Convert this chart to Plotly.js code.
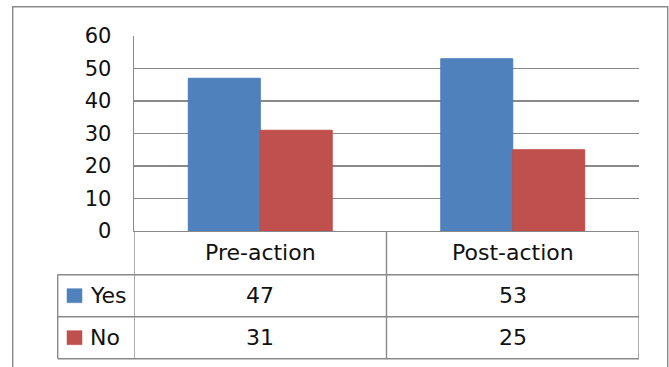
<!DOCTYPE html>
<html>
<head>
<meta charset="utf-8">
<script src="https://cdn.plot.ly/plotly-3.0.1.min.js"></script>
<style>
  html, body { margin: 0; padding: 0; background: #ffffff; }
  #chart { width: 669px; height: 367px; }
</style>
</head>
<body>
<div id="chart"></div>
<script>
// Survey answers before and after the action
const categories = ['Pre-action', 'Post-action'];
const seriesNames = ['Yes', 'No'];
const yesValues = [47, 53];
const noValues = [31, 25];
const yTickValues = [0, 10, 20, 30, 40, 50, 60];

const seriesValues = [yesValues, noValues];
const seriesColors = ['#4F81BD', '#C0504D'];
const seriesEdges = ['#4A7EBB', '#BE4B48'];

// Page and plot-area geometry in pixels
const W = 669, H = 367;
const L = 134, R = 639, T = 36, B = 231;
const pw = R - L, ph = B - T;
const px = x => (x - L) / pw;      // pixel x -> paper x
const py = y => (B - y) / ph;      // pixel y -> paper y

const gridColor = '#898989';
const textColor = '#111111';
const tableFont = { family: 'DejaVu Sans', size: 22, color: textColor };

// Data table rows (pixel edges)
const tableTop = B, headerBottom = 274.7, rowBottoms = [316.7, 358.7];
const legendLeft = 57.7;
const rowEdges = [headerBottom].concat(rowBottoms);

const traces = seriesNames.map((name, s) => ({
  type: 'bar',
  name: name,
  x: categories,
  y: seriesValues[s],
  marker: { color: seriesColors[s], line: { color: seriesEdges[s], width: 1 } },
  hoverinfo: 'skip'
}));

const shapes = [];
const line = { color: gridColor, width: 1.4 };

// Outer chart frame (bottom edge runs past the page)
shapes.push({ type: 'rect', xref: 'paper', yref: 'paper',
  x0: px(12.7), x1: px(667.7), y0: py(6.7), y1: py(420),
  line: { color: gridColor, width: 1.4 }, fillcolor: 'rgba(0,0,0,0)', layer: 'below' });

// Vertical table rules at category boundaries
for (let i = 0; i <= categories.length; i++) {
  shapes.push({ type: 'line', xref: 'x', yref: 'paper',
    x0: i - 0.5, x1: i - 0.5, y0: py(tableTop), y1: py(rowBottoms[rowBottoms.length - 1]), line: line });
}
// Legend column left rule
shapes.push({ type: 'line', xref: 'paper', yref: 'paper',
  x0: px(legendLeft), x1: px(legendLeft), y0: py(headerBottom), y1: py(rowBottoms[rowBottoms.length - 1]), line: line });
// Horizontal table rules
rowEdges.forEach(yy => {
  shapes.push({ type: 'line', xref: 'paper', yref: 'paper',
    x0: px(legendLeft), x1: 1, y0: py(yy), y1: py(yy), line: line });
});

const annotations = [];
// Header row: category names
categories.forEach((c, i) => {
  annotations.push({ xref: 'x', yref: 'paper', x: i, y: py((tableTop + headerBottom) / 2),
    text: c, showarrow: false, xanchor: 'center', yanchor: 'middle', font: tableFont });
});
// Value rows with legend keys
seriesNames.forEach((name, s) => {
  const top = rowEdges[s], bottom = rowEdges[s + 1];
  const mid = (top + bottom) / 2;
  seriesValues[s].forEach((v, i) => {
    annotations.push({ xref: 'x', yref: 'paper', x: i, y: py(mid),
      text: String(v), showarrow: false, xanchor: 'center', yanchor: 'middle', font: tableFont });
  });
  annotations.push({ xref: 'paper', yref: 'paper', x: px(88), y: py(mid),
    text: name, showarrow: false, xanchor: 'left', yanchor: 'middle', font: tableFont });
  shapes.push({ type: 'rect', xref: 'paper', yref: 'paper',
    x0: px(67), x1: px(82), y0: py(mid - 7), y1: py(mid + 7),
    fillcolor: seriesColors[s], line: { color: seriesEdges[s], width: 0.5 } });
});

const layout = {
  width: W, height: H,
  margin: { l: L, r: W - R, t: T, b: H - B, pad: 0 },
  paper_bgcolor: '#ffffff', plot_bgcolor: '#ffffff',
  barmode: 'group', bargap: 0.43, bargroupgap: 0,
  showlegend: false,
  xaxis: {
    type: 'category', range: [-0.5, categories.length - 0.5],
    showticklabels: false, ticks: '', showgrid: false, zeroline: false,
    showline: true, linecolor: gridColor, linewidth: 1.4, fixedrange: true
  },
  yaxis: {
    range: [0, 60], tickvals: yTickValues, ticktext: yTickValues.map(String),
    showgrid: true, gridcolor: gridColor, gridwidth: 1.4,
    zeroline: false, showline: true, linecolor: gridColor, linewidth: 1.4,
    ticks: 'outside', ticklen: 17, tickcolor: 'rgba(0,0,0,0)',
    tickfont: { family: 'DejaVu Sans', size: 21, color: textColor }, fixedrange: true
  },
  shapes: shapes,
  annotations: annotations
};

Plotly.newPlot('chart', traces, layout, { displayModeBar: false, staticPlot: true });
</script>
</body>
</html>
